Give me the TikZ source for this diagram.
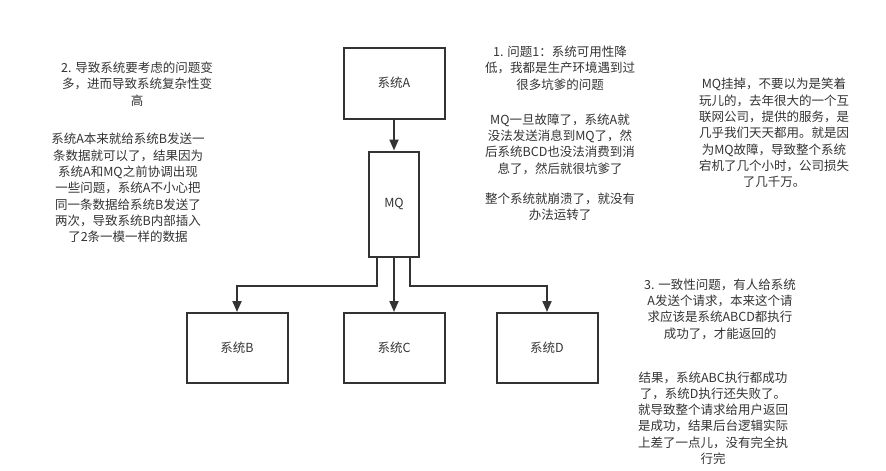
\documentclass[tikz,border=0pt]{standalone}
\usepackage{fontspec}
\setmainfont{Noto Sans CJK SC}
\usetikzlibrary{arrows.meta}
\definecolor{ink}{HTML}{333333}
\tikzset{
    sysbox/.style={draw=ink, line width=2pt, inner sep=0pt, text=ink},
    note/.style={align=center, text=ink, inner sep=0pt, font=\fontsize{12.5}{16.3}\selectfont},
    arr/.style={draw=ink, line width=2pt, -{Triangle[length=11pt,width=9pt]}}
}
\begin{document}
\begin{tikzpicture}[x=1pt, y=-1pt, font=\fontsize{12.5}{16}\selectfont]
    \useasboundingbox (0,0) rectangle (886,471);
    % systems
    \node[sysbox, minimum width=101pt, minimum height=71pt] (sysA) at (394,83) {系统A};
    \node[sysbox, minimum width=50pt, minimum height=105pt] (mq) at (394,204) {MQ};
    \node[sysbox, minimum width=101pt, minimum height=70pt] (sysB) at (237,348) {系统B};
    \node[sysbox, minimum width=101pt, minimum height=70pt] (sysC) at (394,348) {系统C};
    \node[sysbox, minimum width=101pt, minimum height=70pt] (sysD) at (547,348) {系统D};

    % connectors
    \draw[arr] (sysA) -- (mq);
    \draw[arr] (mq) -- (sysC);
    \draw[arr] ([xshift=-17pt]mq.south) -- ++(0,28) -| (sysB.north);
    \draw[arr] ([xshift=16pt]mq.south) -- ++(0,28) -| (sysD.north);

    % notes
    \node[note] (noteComplex) at (137,84) {2. 导致系统要考虑的问题变\\多，进而导致系统复杂性变\\高};
    \node[note] (noteDup) at (128,188) {系统A本来就给系统B发送一\\条数据就可以了，结果因为\\系统A和MQ之前协调出现\\一些问题，系统A不小心把\\同一条数据给系统B发送了\\两次，导致系统B内部插入\\了2条一模一样的数据};

    \node[note] (noteAvail) at (560,68) {1. 问题1：系统可用性降\\低，我都是生产环境遇到过\\很多坑爹的问题};
    \node[note] (noteFail) at (560,144) {MQ一旦故障了，系统A就\\没法发送消息到MQ了，然\\后系统BCD也没法消费到消\\息了，然后就很坑爹了};
    \node[note] (noteCrash) at (560,207) {整个系统就崩溃了，就没有\\办法运转了};

    \node[note] (noteLoss) at (774,133) {MQ挂掉，不要以为是笑着\\玩儿的，去年很大的一个互\\联网公司，提供的服务，是\\几乎我们天天都用。就是因\\为MQ故障，导致整个系统\\宕机了几个小时，公司损失\\了几千万。};

    \node[note] (noteConsist) at (720,309) {3. 一致性问题，有人给系统\\A发送个请求，本来这个请\\求应该是系统ABCD都执行\\成功了，才能返回的};
    \node[note] (noteResult) at (713,418) {结果，系统ABC执行都成功\\了，系统D执行还失败了。\\就导致整个请求给用户返回\\是成功，结果后台逻辑实际\\上差了一点儿，没有完全执\\行完};
\end{tikzpicture}
\end{document}
